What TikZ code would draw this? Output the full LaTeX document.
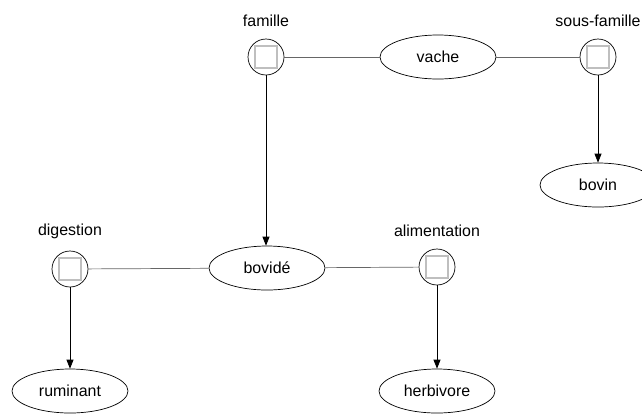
\documentclass[tikz,border=0pt]{standalone}
\usepackage{fontspec}
\setmainfont{Liberation Sans}
\usetikzlibrary{arrows.meta,shapes.geometric}
\begin{document}
\begin{tikzpicture}[x=1bp,y=-1bp,
    font=\fontsize{16}{19}\selectfont,
    line width=0.7bp,
    >={Triangle[length=9bp,width=7bp]},
    value/.style={draw, ellipse, minimum width=116bp, minimum height=44bp, inner sep=0pt},
    slot/.style={draw, circle, minimum size=36bp, inner sep=0pt,
      path picture={\draw[gray!50, line width=1.2bp]
        ([shift={(-11bp,-11bp)}]path picture bounding box.center) rectangle ++(22bp,22bp);},
      label={[label distance=8bp]above:#1}},
    link/.style={gray!80!black},
  ]
  \useasboundingbox (0,0) rectangle (642,416);

  % Frame tops
  \node[value] (vache) at (438,57) {vache};
  \node[slot=famille] (famille) at (266,57) {};
  \node[slot=sous-famille] (sousfamille) at (598,57) {};
  \node[value] (bovin) at (598,185) {bovin};

  % Frame of bovide
  \node[value] (bovide) at (267,268) {bovidé};
  \node[slot=digestion] (digestion) at (70,269) {};
  \node[slot=alimentation] (alimentation) at (437,267) {};
  \node[value] (ruminant) at (70,391) {ruminant};
  \node[value] (herbivore) at (437,391) {herbivore};

  % Slots to their frame
  \draw[link] (famille) -- (vache);
  \draw[link] (vache) -- (sousfamille);
  \draw[link] (digestion) -- (bovide);
  \draw[link] (bovide) -- (alimentation);

  % Fillers
  \draw[->] (famille) -- (bovide.north -| famille);
  \draw[->] (sousfamille) -- (bovin);
  \draw[->] (digestion) -- (ruminant);
  \draw[->] (alimentation) -- (herbivore);
\end{tikzpicture}
\end{document}
